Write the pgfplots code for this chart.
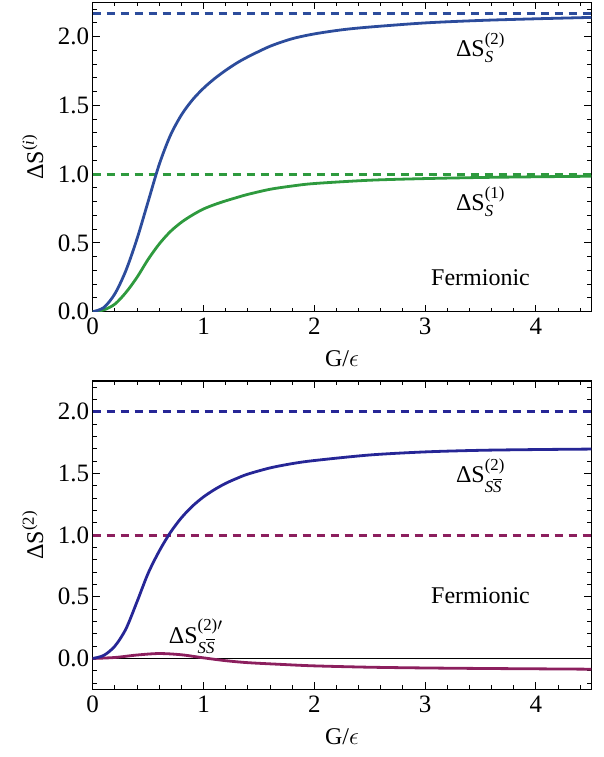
\documentclass[border=0pt]{standalone}
\usepackage{amsmath}
\usepackage{fontspec}
\setmainfont{Liberation Serif}
\usepackage{pgfplots}
\pgfplotsset{compat=1.18}
\definecolor{topblue}{HTML}{2C4C9C}
\definecolor{topgreen}{HTML}{2E9A3E}
\definecolor{botblue}{HTML}{262696}
\definecolor{botmag}{HTML}{8C1F5E}
\newcommand{\fs}{\fontsize{24}{28}\selectfont}
\newcommand{\ft}{\fontsize{25}{29}\selectfont}
\pgfplotsset{myax/.style={
  scale only axis, width=498.6pt, xmin=0, xmax=4.5,
  axis line style={line width=1.2pt},
  every tick/.style={black, line width=0.9pt},
  major tick length=7pt, minor tick length=4pt, tick align=inside,
  xtick={0,1,2,3,4}, minor xtick={0,0.2,...,4.41},
  ytick={0,0.5,1,1.5,2}, minor ytick={-0.2,-0.1,...,2.21},
  yticklabel style={/pgf/number format/.cd,fixed,fixed zerofill,precision=1},
  /pgf/number format/assume math mode=true,
  tick label style={font=\ft},
  label style={font=\fs},
  xticklabel style={yshift=-3pt},
  xlabel={G/$\epsilon$},
  xlabel style={at={(axis description cs:0.5,0)}, anchor=center, yshift=-47pt},
  ylabel style={at={(axis description cs:-0.12,0.5)}, anchor=center},
  curve/.style={line width=2.8pt, smooth},
  dline/.style={line width=2.8pt, dash pattern=on 8.5pt off 5.5pt},
}}
\begin{document}
\begin{tikzpicture}[font=\fs]
\path[use as bounding box] (0,0) rectangle (604pt,757pt);
\begin{axis}[myax, at={(92.7pt,445.3pt)}, anchor=south west, height=309.4pt,
  ymin=0, ymax=2.25,
  ylabel={$\text{ΔS}^{\text{(\textit{i})}}$}]
\addplot[topblue, dline] coordinates {(0,2.167) (4.5,2.167)};
\addplot[topgreen, dline] coordinates {(0,1) (4.5,1)};
\addplot[topgreen, curve] coordinates {
(0,0) (0.1,0.013) (0.2,0.055) (0.3,0.14) (0.4,0.25) (0.5,0.38) (0.6,0.492)
(0.7,0.582) (0.8,0.65) (0.9,0.703) (1.0,0.747) (1.1,0.779) (1.2,0.806)
(1.3,0.83) (1.4,0.853) (1.6,0.89) (1.8,0.914) (2.0,0.932) (2.5,0.956)
(3.0,0.968) (3.5,0.976) (4.0,0.981) (4.5,0.985)};
\addplot[topblue, curve] coordinates {
(0,0) (0.1,0.03) (0.2,0.13) (0.3,0.30) (0.4,0.53) (0.5,0.80) (0.6,1.07)
(0.7,1.28) (0.8,1.43) (0.9,1.54) (1.0,1.625) (1.1,1.695) (1.2,1.755)
(1.3,1.808) (1.4,1.853) (1.6,1.93) (1.8,1.985) (2.0,2.02) (2.25,2.05)
(2.5,2.07) (3.0,2.10) (3.5,2.118) (4.0,2.13) (4.5,2.14)};
\node at (axis cs:3.5,1.92) {$\text{ΔS}^{\text{(2)}}_{\textit{S}}$};
\node at (axis cs:3.5,0.80) {$\text{ΔS}^{\text{(1)}}_{\textit{S}}$};
\node at (axis cs:3.5,0.25) {Fermionic};
\end{axis}
\begin{axis}[myax, at={(92.7pt,67.7pt)}, anchor=south west, height=308.3pt,
  ymin=-0.25, ymax=2.25,
  ylabel={$\text{ΔS}^{\text{(2)}}$}]
\addplot[black, line width=0.8pt] coordinates {(0,0) (4.5,0)};
\addplot[botblue, dline] coordinates {(0,2) (4.5,2)};
\addplot[botmag, dline] coordinates {(0,1) (4.5,1)};
\addplot[botmag, curve] coordinates {
(0,0) (0.2,0.008) (0.4,0.028) (0.6,0.04) (0.8,0.03) (1.0,0.005) (1.2,-0.018)
(1.4,-0.034) (1.7,-0.048) (2.0,-0.06) (2.5,-0.071) (3.0,-0.077) (3.5,-0.081)
(4.0,-0.084) (4.5,-0.087)};
\addplot[botblue, curve] coordinates {
(0,0) (0.1,0.025) (0.2,0.10) (0.3,0.24) (0.4,0.46) (0.5,0.69) (0.6,0.87)
(0.7,1.02) (0.8,1.14) (0.9,1.235) (1.0,1.31) (1.1,1.37) (1.2,1.42)
(1.3,1.46) (1.4,1.495) (1.6,1.545) (1.8,1.58) (2.0,1.605) (2.5,1.65)
(3.0,1.675) (3.5,1.688) (4.0,1.694) (4.5,1.698)};
\node at (axis cs:3.5,1.48) {$\text{ΔS}^{\text{(2)}}_{\textit{S}\overline{\textit{S}}}$};
\node at (axis cs:0.93,0.18) {$\text{ΔS}^{\text{(2)}\prime}_{\textit{S}\overline{\textit{S}}}$};
\node at (axis cs:3.5,0.51) {Fermionic};
\end{axis}
\end{tikzpicture}
\end{document}
